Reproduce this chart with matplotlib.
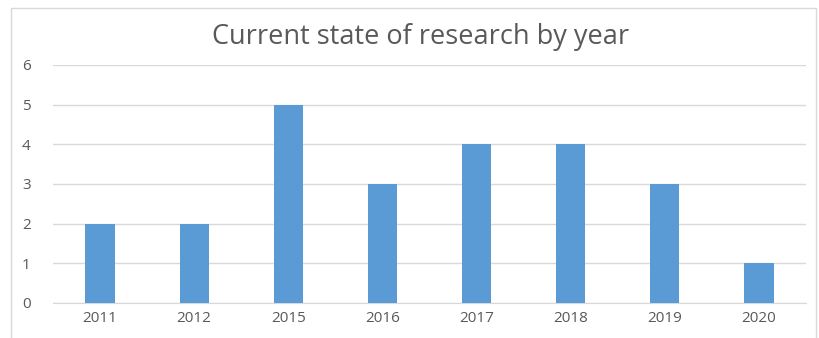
import matplotlib.pyplot as plt
from matplotlib.patches import Rectangle

# 연도별 연구 현황 데이터
years = ["2011", "2012", "2015", "2016", "2017", "2018", "2019", "2020"]
counts = [2, 2, 5, 3, 4, 4, 3, 1]
y_ticks = [0, 1, 2, 3, 4, 5, 6]

plt.rcParams['font.family'] = ['Open Sans', 'DejaVu Sans']

fig = plt.figure(figsize=(8.2, 3.38), dpi=100)
ax = fig.add_axes([0.0646, 0.1036, 0.9184, 0.7044])

x = range(len(years))
ax.bar(x, counts, width=0.31, color="#5B9BD5", zorder=3)

ax.set_xlim(-0.5, len(years) - 0.5)
ax.set_ylim(0, 6)
ax.set_yticks(y_ticks)
ax.set_xticks(list(x))
ax.set_xticklabels(years)
ax.grid(axis="y", color="#D9D9D9", linewidth=1, zorder=0)
for s in ["top", "right", "left"]:
    ax.spines[s].set_visible(False)
ax.spines["bottom"].set_color("#D9D9D9")
ax.tick_params(axis="both", length=0, labelsize=11, colors="#595959")
ax.tick_params(axis="y", pad=16)
ax.tick_params(axis="x", pad=6)

fig.text(0.513, 0.89, "Current state of research by year", ha="center",
         va="center", fontsize=19.5, color="#595959")

# 차트 테두리
fig.patches.append(Rectangle((0.013, -0.01), 0.982, 0.987, transform=fig.transFigure,
                             fill=False, edgecolor="#D9D9D9", linewidth=1))

fig.savefig("out.png", dpi=100)
